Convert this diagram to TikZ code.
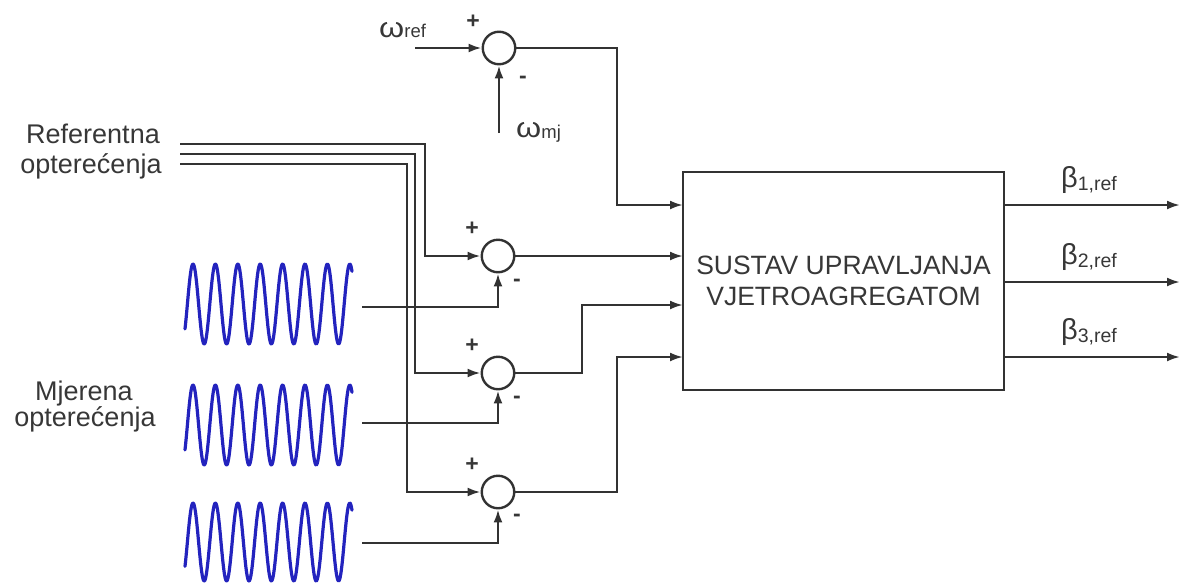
\documentclass[tikz,border=0pt]{standalone}
\usepackage{fontspec}
\setmainfont{Liberation Sans}
\usetikzlibrary{arrows.meta}
\definecolor{ln}{RGB}{50,50,50}
\definecolor{tx}{RGB}{55,55,55}
\definecolor{wv}{RGB}{35,35,190}
\newcommand{\fs}[1]{\fontsize{#1}{#1}\selectfont}
\newcommand{\wom}{\scalebox{1.15}[1]{ω}}
\begin{document}
\begin{tikzpicture}[x=1pt,y=-1pt,
  line/.style={draw=ln, line width=2.4pt},
  arr/.style={line, -{Latex[length=13pt,width=9pt]}},
  sumj/.style={circle, draw=ln, line width=2.4pt, minimum size=32.5pt, inner sep=0pt},
  lbl/.style={text=tx, inner sep=0pt, anchor=base},
  sgn/.style={text=tx, inner sep=0pt, font=\fs{23}\bfseries},
  wave/.style={draw=wv, line width=3.2pt, line cap=round, line join=round},
  ]
\useasboundingbox (0,0) rectangle (1183,584);
% summing junctions
\node[sumj] (j1) at (499,48) {};
\node[sumj] (j2) at (498,256) {};
\node[sumj] (j3) at (498,373) {};
\node[sumj] (j4) at (498,492) {};
% main block
\node[draw=ln, line width=2.4pt, minimum width=321pt, minimum height=218pt, inner sep=0pt,
      align=center, text=tx, font=\fontsize{26.5}{31}\selectfont] (sys) at (843.5,281)
      {SUSTAV UPRAVLJANJA\\VJETROAGREGATOM};
% coordinates
\coordinate (wref) at (415,48);
\coordinate (wmj) at (499,133);
\coordinate (r1) at (180,144);
\coordinate (r2) at (180,154);
\coordinate (r3) at (180,164);
\coordinate (s1) at (362,307);
\coordinate (s2) at (362,423);
\coordinate (s3) at (362,543);
\coordinate (in1) at (683,205);
\coordinate (in2) at (683,256);
\coordinate (in3) at (683,305);
\coordinate (in4) at (683,357);
\coordinate (o1) at (1180,205);
\coordinate (o2) at (1180,282);
\coordinate (o3) at (1180,357);
% connectors
\draw[arr] (wref) -- (j1.west);
\draw[arr] (wmj) -- (j1.south);
\draw[arr] (j1.east) -| (617,205) -- (in1);
\draw[arr] (j2.east) -- (in2);
\draw[arr] (j3.east) -| (582,305) -- (in3);
\draw[arr] (j4.east) -| (617,357) -- (in4);
\draw[arr] (r1) -| (425,256) -- (j2.west);
\draw[arr] (r2) -| (415,373) -- (j3.west);
\draw[arr] (r3) -| (407,492) -- (j4.west);
\draw[arr] (s1) -| (j2.south);
\draw[arr] (s2) -| (j3.south);
\draw[arr] (s3) -| (j4.south);
\draw[arr] (sys.east |- o1) -- (o1);
\draw[arr] (sys.east |- o2) -- (o2);
\draw[arr] (sys.east |- o3) -- (o3);
% sine waves
\draw[wave] plot[domain=185:352, samples=300] (\x, {304-40*cos((\x-193)*16.0714)});
\draw[wave] plot[domain=185:352, samples=300] (\x, {425-40*cos((\x-193)*16.0714)});
\draw[wave] plot[domain=185:352, samples=300] (\x, {542-39*cos((\x-193)*16.0714)});
% signs
\node[sgn] (p1) at (473,22) {+};
\node[sgn] (m1) at (523,80) {-};
\node[sgn] (p2) at (472,229) {+};
\node[sgn] (m2) at (517,283) {-};
\node[sgn] (p3) at (472,346) {+};
\node[sgn] (m3) at (517,400) {-};
\node[sgn] (p4) at (472,465) {+};
\node[sgn] (m4) at (517,518) {-};
% labels
\node[lbl, anchor=base west] (lwref) at (379,37) {\fs{28}\wom\fs{18.5}ref};
\node[lbl, anchor=base west] (lwmj) at (516,137) {\fs{28}\wom\raisebox{-1pt}{\fs{18.5}mj}};
\node[lbl, anchor=base west] (lb1) at (1061,187) {\fs{29}β\raisebox{-3pt}{\fs{19.5}1,ref}};
\node[lbl, anchor=base west] (lb2) at (1061,264) {\fs{29}β\raisebox{-3pt}{\fs{19.5}2,ref}};
\node[lbl, anchor=base west] (lb3) at (1061,339) {\fs{29}β\raisebox{-3pt}{\fs{19.5}3,ref}};
\node[lbl, font=\fs{27}] (ref1) at (93,143) {Referentna};
\node[lbl, font=\fs{27}] (ref2) at (91,173) {opterećenja};
\node[lbl, font=\fs{27}] (mj1) at (84,400) {Mjerena};
\node[lbl, font=\fs{27}] (mj2) at (85,426) {opterećenja};
\end{tikzpicture}
\end{document}
